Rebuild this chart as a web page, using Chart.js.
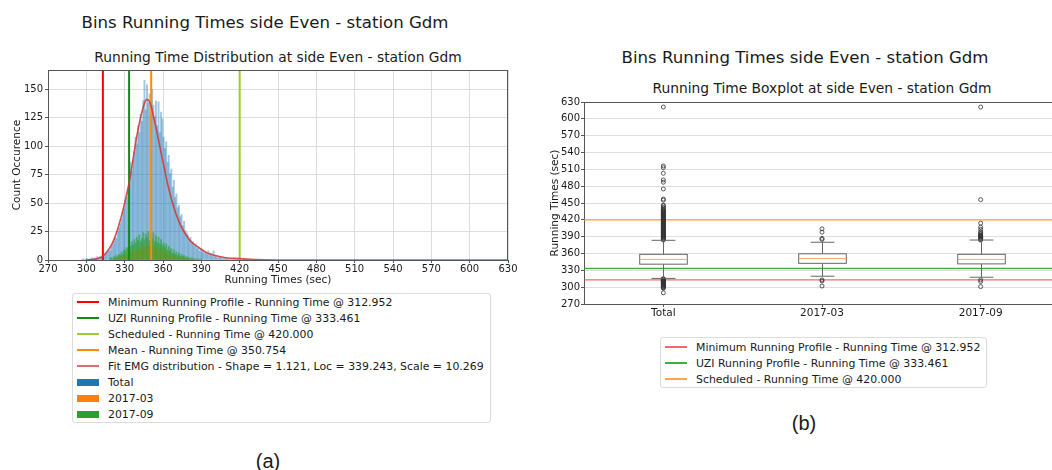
<!DOCTYPE html>
<html lang="en">
<head>
  <meta charset="UTF-8">
  <title>Bins Running Times side Even - station Gdm</title>
  <script src="https://cdn.jsdelivr.net/npm/chart.js"></script>
  <style>
    body {
      margin: 0;
      width: 1052px;
      height: 470px;
      overflow: hidden;
      position: relative;
      background: #fff;
      font-family: 'DejaVu Sans', sans-serif;
      color: #1a1a1a;
    }

    .txt {
      position: absolute;
      white-space: nowrap;
      transform: translate(-50%, -50%);
    }

    .sup { font-size: 16.6px; }
    .sub { font-size: 13.8px; }
    .tag { font-family: 'Liberation Sans', Arial, sans-serif; font-size: 20px; }

    .plot { position: absolute; }

    .legend {
      position: absolute;
      box-sizing: border-box;
      border: 1px solid #dcdcdc;
      border-radius: 3px;
      font-size: 10.9px;
      background: #fff;
    }

    .legend .row {
      height: 16px;
      display: flex;
      align-items: center;
      white-space: nowrap;
    }

    .legend .sw {
      display: inline-block;
      width: 22px;
      margin: 0 9px 0 4px;
    }
  </style>
</head>
<body>
  <div class="txt sup" style="left:265px; top:22px;">Bins Running Times side Even - station Gdm</div>
  <div class="txt sub" style="left:278px; top:57px;">Running Time Distribution at side Even - station Gdm</div>
  <div class="txt sup" style="left:805px; top:57px;">Bins Running Times side Even - station Gdm</div>
  <div class="txt sub" style="left:822px; top:88px;">Running Time Boxplot at side Even - station Gdm</div>

  <div class="plot" style="left:0; top:60px; width:530px; height:230px;">
    <canvas id="histChart"></canvas>
  </div>
  <div class="plot" style="left:530px; top:95px; width:540px; height:230px;">
    <canvas id="boxChart"></canvas>
  </div>

  <div class="legend" id="legendA" style="left:72px; top:293px; width:419px; height:130px;"></div>
  <div class="legend" id="legendB" style="left:660px; top:337px; width:327px; height:51px; padding-top:1px;"></div>

  <div class="txt tag" style="left:268px; top:461px;">(a)</div>
  <div class="txt tag" style="left:804px; top:423px;">(b)</div>

  <script>
    // ---- histogram data (1 sec bins, first bin starts at *Start) ----
    const totalStart = 296;
    const totalCounts = [
      0, 1, 0, 1, 1, 0, 1, 1, 2, 1,
      2, 1, 3, 2, 3, 2, 4, 3, 5, 6,
      7, 9, 8, 12, 14, 16, 20, 19, 25, 28,
      32, 36, 42, 45, 52, 55, 62, 68, 86, 78,
      88, 95, 108, 102, 118, 112, 128, 122, 140, 158,
      132, 154, 138, 146, 128, 150, 136, 126, 140, 118,
      139, 112, 130, 124, 108, 98, 104, 86, 92, 76,
      80, 64, 70, 55, 58, 46, 48, 38, 40, 30,
      34, 26, 24, 22, 18, 20, 15, 16, 12, 14,
      10, 11, 8, 10, 7, 8, 6, 7, 5, 8,
      4, 6, 3, 8, 3, 4, 2, 3, 2, 3,
      1, 2, 1, 2, 1, 1, 0, 1, 1, 0,
      1, 0, 1, 0, 1, 0, 0, 1, 0, 0
    ];
    const marStart = 322;
    const marCounts = [
      1, 1, 2, 1, 2, 3, 2, 4, 3, 5,
      4, 6, 5, 7, 6, 8, 7, 9, 8, 10,
      9, 11, 10, 12, 9, 13, 11, 12, 10, 13,
      9, 12, 10, 11, 8, 10, 7, 9, 6, 8,
      5, 7, 4, 6, 3, 5, 3, 4, 2, 3,
      2, 2, 1, 2, 1, 1, 1, 0, 1
    ];
    const sepStart = 318;
    const sepCounts = [
      1, 2, 1, 3, 2, 4, 3, 5, 4, 7,
      5, 9, 8, 11, 10, 14, 12, 16, 13, 18,
      15, 20, 17, 22, 16, 19, 24, 18, 23, 20,
      25, 17, 22, 19, 24, 16, 21, 15, 20, 14,
      18, 13, 15, 11, 14, 9, 12, 8, 10, 6,
      9, 5, 7, 4, 6, 3, 5, 3, 4, 2,
      3, 2, 2, 1, 2, 1, 1, 1, 0, 1,
      0, 1
    ];

    // ---- EMG fit curve ----
    const fitX = [300, 305, 308, 311, 313, 316, 319, 322, 325, 328, 331, 334, 337, 340, 343, 345, 347, 349,
                  351, 353, 355, 358, 361, 364, 367, 370, 374, 378, 383, 388, 394, 400, 408, 416, 425, 440, 460, 500, 630];
    const fitY = [0, 0.3, 1, 2.2, 3.5, 7, 12, 19, 29, 41, 55, 71, 92, 112, 128, 136, 141, 140,
                  134, 124, 114, 97, 81, 65, 52, 41, 30, 22, 15, 11, 6.5, 4.2, 2.2, 1.4, 0.8, 0.2, 0, 0, 0];

    // ---- reference running times ----
    const refLabels = [
      'Minimum Running Profile - Running Time @ 312.952',
      'UZI Running Profile - Running Time @ 333.461',
      'Scheduled - Running Time @ 420.000',
      'Mean - Running Time @ 350.754'
    ];
    const refValues = [312.952, 333.461, 420.0, 350.754];
    const fitLabel = 'Fit EMG distribution - Shape = 1.121, Loc = 339.243, Scale = 10.269';
    const histLabels = ['Total', '2017-03', '2017-09'];

    // ---- axes ----
    const histXTicks = [270, 300, 330, 360, 390, 420, 450, 480, 510, 540, 570, 600, 630];
    const histYTicks = [0, 25, 50, 75, 100, 125, 150];
    const histYMax = 167;
    const boxYTicks = [270, 300, 330, 360, 390, 420, 450, 480, 510, 540, 570, 600, 630];

    // ---- boxplot stats ----
    const boxCats = ['Total', '2017-03', '2017-09'];
    const boxQ1 = [341, 342.5, 341.5];
    const boxMed = [349.5, 351, 349.5];
    const boxQ3 = [358.5, 359.5, 358.5];
    const whiskLo = [315.6, 319.5, 317.7];
    const whiskHi = [383.5, 380, 384];
    const outTotal = [290, 298, 299, 300, 301, 302, 303, 304, 305, 306, 307, 308, 309, 309.5, 310, 310.5, 311, 311.5,
                      312, 312.5, 313, 313.5, 314, 314.5, 315,
                      384, 385, 386, 387, 388, 389, 390, 391, 392, 393, 394, 395, 396, 397, 398, 399, 400, 401, 402,
                      403, 404, 405, 406, 407, 408, 409, 410, 411, 412, 413, 414, 415, 416, 417, 418, 419, 420, 421,
                      422, 423, 424, 425, 426, 427, 428, 429, 430, 431, 432, 433, 434, 435, 436, 437, 438, 441, 442,
                      445, 446, 455, 457, 475, 487, 491, 503, 513, 516, 621];
    const outMar = [302, 311, 313, 385, 387, 398, 404];
    const outSep = [301, 310, 313, 384, 385, 386, 387, 388, 389, 390, 391, 392, 393, 395, 397, 399, 403, 407, 414, 456, 621];
    const boxRefLabels = refLabels.slice(0, 3);
    const boxRefValues = refValues.slice(0, 3);

    // styles
    const refColors = ['#ff0000', '#138a13', '#9acd32', '#ff8c00'];
    const fitColor = 'rgba(214, 50, 50, 0.85)';
    const histColors = ['rgba(31, 119, 180, 0.42)', 'rgba(255, 127, 14, 0.6)', 'rgba(44, 160, 44, 0.6)'];
    const histSwatch = ['#1f77b4', '#ff7f0e', '#2ca02c'];
    const boxRefColors = ['rgba(235, 70, 70, 0.8)', 'rgba(30, 160, 30, 0.85)', 'rgba(255, 140, 40, 0.8)'];
    const spine = '#555';
    const gridColor = '#dedede';

    Chart.defaults.font.family = "'DejaVu Sans', sans-serif";
    Chart.defaults.color = '#1a1a1a';

    function bins(start, counts) {
      return counts.map((c, i) => ({ x: start + i + 0.5, y: c }));
    }

    // top / right spines
    const frame = {
      id: 'frame',
      afterDraw(chart, args, opts) {
        const { ctx, chartArea: a } = chart;
        ctx.save();
        ctx.strokeStyle = spine;
        ctx.lineWidth = 1;
        ctx.beginPath();
        ctx.moveTo(a.left, a.top + 0.5);
        ctx.lineTo(a.right, a.top + 0.5);
        if (opts.right) {
          ctx.moveTo(a.right - 0.5, a.top);
          ctx.lineTo(a.right - 0.5, a.bottom);
        }
        ctx.stroke();
        ctx.restore();
      }
    };

    // ---- (a) histogram ----
    const histDatasets = [];
    [[totalStart, totalCounts], [marStart, marCounts], [sepStart, sepCounts]].forEach(([s, c], i) => {
      histDatasets.push({
        label: histLabels[i],
        data: bins(s, c),
        backgroundColor: histColors[i],
        borderWidth: 0,
        barPercentage: 1,
        categoryPercentage: 1,
        grouped: false,
        order: 10 - i
      });
    });
    refValues.forEach((v, i) => {
      histDatasets.push({
        type: 'line',
        label: refLabels[i],
        data: [{ x: v, y: 0 }, { x: v, y: histYMax }],
        borderColor: refColors[i],
        borderWidth: 2,
        pointRadius: 0,
        order: 2
      });
    });
    histDatasets.push({
      type: 'line',
      label: fitLabel,
      data: fitX.map((x, i) => ({ x, y: fitY[i] })),
      borderColor: fitColor,
      borderWidth: 1.6,
      pointRadius: 0,
      cubicInterpolationMode: 'monotone',
      order: 1
    });

    new Chart(document.getElementById('histChart'), {
      type: 'bar',
      data: { datasets: histDatasets },
      options: {
        responsive: true,
        maintainAspectRatio: false,
        animation: false,
        events: [],
        layout: { padding: { top: 10, right: 22, left: 0, bottom: 0 } },
        plugins: { legend: { display: false }, tooltip: { enabled: false }, frame: { right: true } },
        scales: {
          x: {
            type: 'linear',
            min: 270,
            max: 630,
            offset: false,
            afterBuildTicks: s => { s.ticks = histXTicks.map(v => ({ value: v })); },
            afterFit: s => { s.height = 30; },
            ticks: { autoSkip: false, maxRotation: 0, padding: 0, font: { size: 10 } },
            grid: { color: gridColor, offset: false, tickLength: 3, tickColor: spine },
            border: { color: spine },
            title: { display: true, text: 'Running Times (sec)', font: { size: 10.5 }, padding: { top: 0, bottom: 3 } }
          },
          y: {
            min: 0,
            max: histYMax,
            afterBuildTicks: s => { s.ticks = histYTicks.map(v => ({ value: v })); },
            afterFit: s => { s.width = 48; },
            ticks: { padding: 2, font: { size: 10 } },
            grid: { color: gridColor, tickLength: 3, tickColor: spine },
            border: { color: spine },
            title: { display: true, text: 'Count Occurence', font: { size: 10.5 }, padding: { top: 11, bottom: 0 } }
          }
        }
      },
      plugins: [frame]
    });

    // ---- (b) boxplot ----
    const boxDraw = {
      id: 'boxDraw',
      afterDatasetsDraw(chart) {
        const { ctx, scales: { x, y } } = chart;
        const halfW = (x.getPixelForValue(1.15) - x.getPixelForValue(1));
        ctx.save();
        boxCats.forEach((c, i) => {
          const cx = Math.round(x.getPixelForValue(i + 1)) + 0.5;
          const yq1 = y.getPixelForValue(boxQ1[i]);
          const yq3 = y.getPixelForValue(boxQ3[i]);
          const ylo = y.getPixelForValue(whiskLo[i]);
          const yhi = y.getPixelForValue(whiskHi[i]);
          const ymed = y.getPixelForValue(boxMed[i]);
          ctx.strokeStyle = '#666';
          ctx.lineWidth = 1;
          ctx.beginPath();
          ctx.moveTo(cx, yq3); ctx.lineTo(cx, yhi);
          ctx.moveTo(cx, yq1); ctx.lineTo(cx, ylo);
          ctx.moveTo(cx - halfW / 2, yhi); ctx.lineTo(cx + halfW / 2, yhi);
          ctx.moveTo(cx - halfW / 2, ylo); ctx.lineTo(cx + halfW / 2, ylo);
          ctx.stroke();
          ctx.fillStyle = '#fff';
          ctx.fillRect(cx - halfW, yq3, halfW * 2, yq1 - yq3);
          ctx.strokeRect(cx - halfW, yq3, halfW * 2, yq1 - yq3);
          ctx.strokeStyle = '#ffa860';
          ctx.beginPath();
          ctx.moveTo(cx - halfW, ymed); ctx.lineTo(cx + halfW, ymed);
          ctx.stroke();
        });
        ctx.restore();
      }
    };

    const outliers = [];
    [outTotal, outMar, outSep].forEach((arr, i) => arr.forEach(v => outliers.push({ x: i + 1, y: v })));

    const boxDatasets = boxRefValues.map((v, i) => ({
      type: 'line',
      label: boxRefLabels[i],
      data: [{ x: 0.5, y: v }, { x: 3.5, y: v }],
      borderColor: boxRefColors[i],
      borderWidth: 1.4,
      pointRadius: 0,
      order: 2
    }));
    boxDatasets.push({
      label: 'outliers',
      data: outliers,
      pointRadius: 2,
      pointBorderWidth: 0.8,
      pointBorderColor: '#333',
      pointBackgroundColor: 'rgba(0,0,0,0)',
      order: 1
    });

    new Chart(document.getElementById('boxChart'), {
      type: 'scatter',
      data: { datasets: boxDatasets },
      options: {
        responsive: true,
        maintainAspectRatio: false,
        animation: false,
        events: [],
        layout: { padding: { top: 6, right: 10, left: 0, bottom: 0 } },
        plugins: { legend: { display: false }, tooltip: { enabled: false }, frame: { right: false } },
        scales: {
          x: {
            type: 'linear',
            min: 0.5,
            max: 3.5,
            afterBuildTicks: s => { s.ticks = boxCats.map((c, i) => ({ value: i + 1 })); },
            afterFit: s => { s.height = 21; },
            ticks: { padding: 0, font: { size: 10.5 }, callback: v => boxCats[v - 1] },
            grid: { drawOnChartArea: false, tickLength: 3, tickColor: spine },
            border: { color: spine }
          },
          y: {
            min: 270,
            max: 630,
            afterBuildTicks: s => { s.ticks = boxYTicks.map(v => ({ value: v })); },
            afterFit: s => { s.width = 54; },
            ticks: { padding: 1, font: { size: 10 } },
            grid: { color: gridColor, tickLength: 3, tickColor: spine },
            border: { color: spine },
            title: { display: true, text: 'Running Times (sec)', font: { size: 10.5 }, padding: { top: 19, bottom: 0 } }
          }
        }
      },
      plugins: [boxDraw, frame]
    });

    // ---- legends ----
    function legendRow(label, color, patch) {
      const row = document.createElement('div');
      row.className = 'row';
      const sw = document.createElement('span');
      sw.className = 'sw';
      sw.style.height = patch ? '7px' : '1.6px';
      sw.style.background = color;
      row.appendChild(sw);
      row.appendChild(document.createTextNode(label));
      return row;
    }

    const legA = document.getElementById('legendA');
    refLabels.forEach((l, i) => legA.appendChild(legendRow(l, refColors[i], false)));
    legA.appendChild(legendRow(fitLabel, 'rgba(214, 60, 60, 0.75)', false));
    histLabels.forEach((l, i) => legA.appendChild(legendRow(l, histSwatch[i], true)));

    const legB = document.getElementById('legendB');
    boxRefLabels.forEach((l, i) => legB.appendChild(legendRow(l, boxRefColors[i], false)));
  </script>
</body>
</html>
